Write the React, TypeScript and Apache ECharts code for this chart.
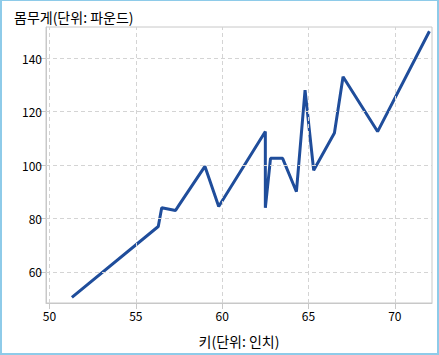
import React, { useEffect, useRef } from "react";
import * as echarts from "echarts";

const heights = [51.3, 56.3, 56.5, 57.3, 57.5, 59.0, 59.8, 62.5, 62.5, 62.8, 63.5, 64.3, 64.8, 65.3, 66.5, 66.5, 67.0, 69.0, 72.0];
const weights = [50.5, 77.0, 84.0, 83.0, 85.0, 99.5, 84.5, 112.5, 84.0, 102.5, 102.5, 90.0, 128.0, 98.0, 112.0, 112.0, 133.0, 112.5, 150.0];
const xTicks = [50, 55, 60, 65, 70];
const yTicks = [60, 80, 100, 120, 140];
const xTitle = "키(단위: 인치)";
const yTitle = "몸무게(단위: 파운드)";

const FONT = "'Noto Sans CJK KR', sans-serif";
const GRAY = "#c8c8c8";

export default function App() {
  const ref = useRef<HTMLDivElement>(null);
  useEffect(() => {
    if (!ref.current) return;
    const chart = echarts.init(ref.current, null, { renderer: "svg" });
    const pts = heights.map((h, i) => [h, weights[i]]);
    chart.setOption({
      animation: false,
      backgroundColor: "#fff",
      textStyle: { fontFamily: FONT },
      title: {
        text: yTitle,
        left: 9,
        top: 5,
        textStyle: { fontFamily: FONT, fontSize: 14, fontWeight: "normal", color: "#000" },
      },
      grid: {
        left: 46,
        right: 7,
        top: 27,
        bottom: 52,
        show: true,
        borderColor: GRAY,
        borderWidth: 1,
        backgroundColor: "#fff",
      },
      xAxis: {
        type: "value",
        min: 49.8,
        max: 72.15,
        name: xTitle,
        nameLocation: "middle",
        nameGap: 31,
        nameTextStyle: { fontFamily: FONT, fontSize: 14, color: "#000" },
        axisLine: { show: true, lineStyle: { color: GRAY } },
        axisTick: { show: true, length: 6, lineStyle: { color: GRAY }, customValues: xTicks },
        axisLabel: { customValues: xTicks, fontFamily: FONT, fontSize: 12, color: "#000", margin: 6 },
        splitLine: { show: false },
      },
      yAxis: {
        type: "value",
        min: 48.4,
        max: 151.6,
        axisLine: { show: true, lineStyle: { color: GRAY } },
        axisTick: { show: true, length: 7, lineStyle: { color: GRAY }, customValues: yTicks },
        axisLabel: { customValues: yTicks, fontFamily: FONT, fontSize: 12, color: "#000", margin: 4 },
        splitLine: { show: false },
      },
      series: [
        {
          type: "line",
          data: pts,
          z: 1,
          symbol: "none",
          silent: true,
          lineStyle: { opacity: 0 },
          markLine: {
            silent: true,
            symbol: "none",
            animation: false,
            label: { show: false },
            lineStyle: { color: "#d4d4d4", type: [4, 3], width: 1 },
            data: [
              ...xTicks.map((v) => ({ xAxis: v })),
              ...yTicks.map((v) => ({ yAxis: v })),
            ],
          },
        },
        {
          type: "line",
          data: pts,
          z: 3,
          symbol: "none",
          lineStyle: { color: "#1f4d9b", width: 3 },
        },
      ],
    });
    return () => chart.dispose();
  }, []);
  return (
    <div style={{ position: "fixed", left: 0, top: 0, width: 439, height: 355 }}>
      <div ref={ref} style={{ position: "absolute", left: 0, top: 0, width: 439, height: 355 }} />
      <div
        style={{
          position: "absolute",
          left: 0,
          top: 0,
          width: 439,
          height: 355,
          boxSizing: "border-box",
          borderStyle: "solid",
          borderColor: "#8ecbe9",
          borderWidth: "1px 2px 2px 2px",
          pointerEvents: "none",
        }}
      />
    </div>
  );
}
